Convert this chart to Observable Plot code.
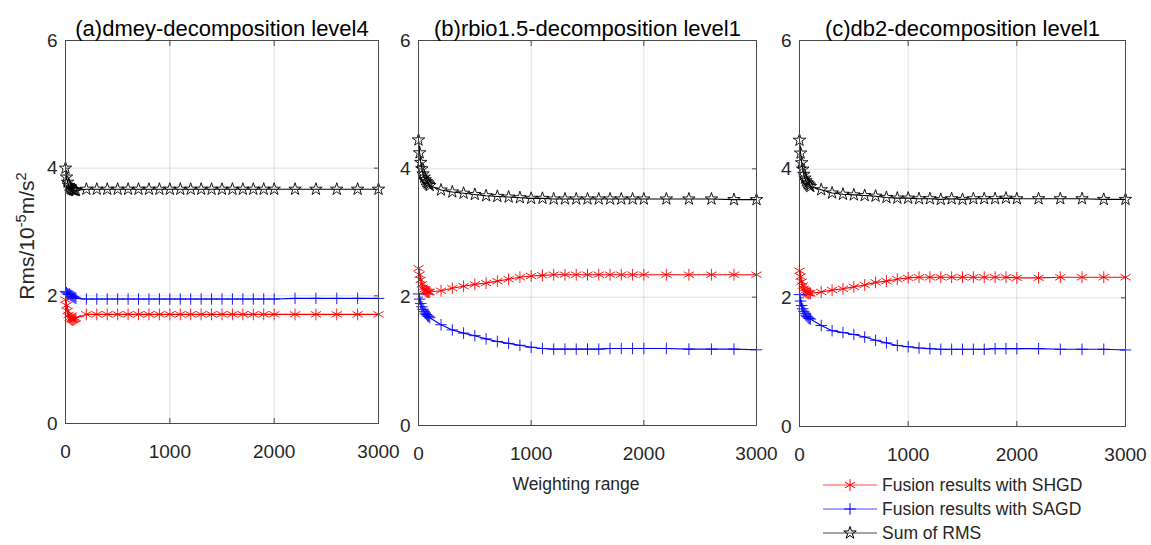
<!DOCTYPE html>
<html><head><meta charset="utf-8">
<script src="https://cdn.jsdelivr.net/npm/d3@7"></script>
<script src="https://cdn.jsdelivr.net/npm/@observablehq/plot@0.6"></script>
<style>
body{margin:0;background:#fff;font-family:"Liberation Sans",Arial,sans-serif;color:#262626}
#root{position:relative;width:1151px;height:545px;overflow:hidden;background:#fff}
.abs{position:absolute}
.panel svg{background:transparent !important}
</style></head><body><div id="root"></div>
<script>
// ---------------- data ----------------
const weights = [0,10,20,30,40,50,60,70,80,90,100,
  200,300,400,500,600,700,800,900,1000,1100,1200,1300,1400,1500,1600,1700,1800,1900,2000,
  2200,2400,2600,2800,3000];

const titles = ["(a)dmey-decomposition level4", "(b)rbio1.5-decomposition level1", "(c)db2-decomposition level1"];
const seriesNames = ["Fusion results with SHGD", "Fusion results with SAGD", "Sum of RMS"];
const xTicks = [0,1000,2000,3000];
const yTicks = [0,2,4,6];
const yLabel = "Rms/10<sup>-5</sup>m/s<sup>2</sup>";
const xLabel = "Weighting range";

// panel (a)
const a_shgd = [1.94,1.85,1.76,1.70,1.66,1.64,1.63,1.62,1.63,1.64,1.65,
  1.71,1.71,1.71,1.71,1.71,1.71,1.71,1.71,1.71,1.71,1.71,1.71,1.71,1.71,1.71,1.71,1.71,1.71,1.71,
  1.71,1.71,1.71,1.71,1.71];
const a_sagd = [2.07,2.05,2.03,2.02,2.03,2.01,2.00,1.99,1.98,1.97,1.96,
  1.95,1.95,1.95,1.95,1.95,1.95,1.95,1.95,1.95,1.95,1.95,1.95,1.95,1.95,1.95,1.95,1.95,1.95,1.95,
  1.96,1.96,1.96,1.96,1.96];
const a_sum = [4.00,3.86,3.78,3.73,3.70,3.68,3.67,3.66,3.66,3.65,3.65,
  3.67,3.67,3.67,3.67,3.67,3.67,3.67,3.67,3.67,3.67,3.67,3.67,3.67,3.67,3.67,3.67,3.67,3.67,3.67,
  3.67,3.67,3.67,3.67,3.67];

// panel (b)
const b_shgd = [2.45,2.35,2.27,2.20,2.15,2.12,2.10,2.09,2.08,2.08,2.08,
  2.10,2.14,2.17,2.20,2.22,2.25,2.28,2.31,2.33,2.34,2.35,2.35,2.35,2.35,2.35,2.35,2.35,2.35,2.35,
  2.35,2.35,2.35,2.35,2.35];
const b_sagd = [2.05,1.97,1.90,1.85,1.81,1.78,1.75,1.73,1.71,1.70,1.68,
  1.57,1.49,1.44,1.40,1.35,1.31,1.28,1.25,1.22,1.20,1.19,1.19,1.19,1.19,1.19,1.20,1.20,1.20,1.20,
  1.20,1.19,1.19,1.19,1.18];
const b_sum = [4.45,4.25,4.10,4.00,3.92,3.87,3.83,3.80,3.78,3.76,3.74,
  3.67,3.64,3.62,3.60,3.58,3.57,3.56,3.55,3.54,3.54,3.53,3.53,3.53,3.53,3.53,3.53,3.53,3.53,3.53,
  3.53,3.53,3.53,3.52,3.52];

// panel (c)
const c_shgd = [2.42,2.33,2.25,2.19,2.14,2.11,2.09,2.08,2.07,2.07,2.07,
  2.09,2.12,2.14,2.17,2.20,2.24,2.26,2.29,2.31,2.32,2.32,2.32,2.32,2.32,2.32,2.32,2.32,2.32,2.31,
  2.31,2.32,2.32,2.32,2.32];
const c_sagd = [2.05,1.95,1.88,1.83,1.79,1.76,1.73,1.71,1.69,1.68,1.67,
  1.57,1.49,1.46,1.43,1.39,1.34,1.30,1.26,1.24,1.22,1.21,1.20,1.20,1.20,1.20,1.20,1.21,1.21,1.21,
  1.21,1.20,1.20,1.20,1.19];
const c_sum = [4.45,4.25,4.10,4.00,3.92,3.86,3.82,3.79,3.77,3.75,3.73,
  3.68,3.63,3.61,3.60,3.59,3.58,3.56,3.55,3.55,3.54,3.54,3.53,3.54,3.53,3.54,3.54,3.54,3.55,3.54,
  3.54,3.54,3.54,3.53,3.53];

// ---------------- styling ----------------
const colors = ["#ff0000", "#0000ff", "#000000"];
const symbols = ["asterisk", "plus", "star"];
const radii = [5.6, 3.8, 3.9];
const FONT = '"Liberation Sans", Arial, sans-serif';

const panels = [
  {title: titles[0], series: [a_shgd, a_sagd, a_sum], left: 65, right: 378, top: 40, bottom: 423},
  {title: titles[1], series: [b_shgd, b_sagd, b_sum], left: 418, right: 756, top: 40, bottom: 425},
  {title: titles[2], series: [c_shgd, c_sagd, c_sum], left: 799, right: 1125, top: 40, bottom: 426}
];

const root = document.getElementById("root");
const ML = 45, MR = 15, MT = 40, MB = 45;
const fmt = d => String(d);

panels.forEach(p => {
  const w = (p.right - p.left) + ML + MR;
  const h = (p.bottom - p.top) + MT + MB;
  const marks = [
    Plot.gridX(xTicks, {stroke: "#000", strokeOpacity: 0.13}),
    Plot.gridY(yTicks, {stroke: "#000", strokeOpacity: 0.13})
  ];
  p.series.forEach((vals, si) => {
    const data = weights.map((x, i) => ({x, y: vals[i]}));
    marks.push(Plot.line(data, {x: "x", y: "y", stroke: colors[si], strokeWidth: 1.1}));
    marks.push(Plot.dot(data, {x: "x", y: "y", symbol: () => symbols[si], stroke: colors[si], fill: "none", r: radii[si], strokeWidth: 0.9}));
  });
  marks.push(
    Plot.frame({stroke: "#4a4a4a", strokeWidth: 1}),
    Plot.axisX(xTicks, {anchor: "bottom", tickSize: -5, tickPadding: 26, fontSize: 19, tickFormat: fmt, label: null, stroke: "#4a4a4a"}),
    Plot.axisX(xTicks, {anchor: "top", tickSize: -5, tickFormat: () => "", label: null, stroke: "#4a4a4a"}),
    Plot.axisY(yTicks, {anchor: "left", tickSize: -5, tickPadding: 13, fontSize: 19, tickFormat: fmt, label: null, stroke: "#4a4a4a"}),
    Plot.axisY(yTicks, {anchor: "right", tickSize: -5, tickFormat: () => "", label: null, stroke: "#4a4a4a"}),
    Plot.text([p.title], {frameAnchor: "top", dy: -20, fontSize: 22, fill: "#000"})
  );
  const chart = Plot.plot({
    width: w, height: h,
    marginLeft: ML, marginRight: MR, marginTop: MT, marginBottom: MB,
    x: {domain: [0, 3000], label: null},
    y: {domain: [0, 6], label: null},
    style: {fontFamily: FONT, fontSize: "19px", color: "#262626", background: "transparent", overflow: "visible"},
    marks
  });
  const div = document.createElement("div");
  div.className = "abs panel";
  div.style.left = (p.left - ML) + "px";
  div.style.top = (p.top - MT) + "px";
  div.appendChild(chart);
  root.appendChild(div);
});

// y label
const yl = document.createElement("div");
yl.innerHTML = yLabel;
yl.style.cssText = `position:absolute;left:27px;top:236px;transform:translate(-50%,-50%) rotate(-90deg);font-size:21px;white-space:nowrap;color:#262626;font-family:${FONT}`;
yl.querySelectorAll("sup").forEach(s => { s.style.fontSize = "0.7em"; s.style.verticalAlign = "0.55em"; s.style.lineHeight = "0"; });
root.appendChild(yl);

// x label
const xl = document.createElement("div");
xl.textContent = xLabel;
xl.style.cssText = `position:absolute;left:576px;top:484px;transform:translate(-50%,-50%);font-size:17.5px;white-space:nowrap;color:#262626;font-family:${FONT}`;
root.appendChild(xl);

// legend
const leg = document.createElement("div");
leg.style.cssText = `position:absolute;left:822px;top:473px;font-family:${FONT};font-size:17.5px;color:#262626`;
seriesNames.forEach((name, si) => {
  const row = document.createElement("div");
  row.style.cssText = "display:flex;align-items:center;height:24px;";
  const ns = "http://www.w3.org/2000/svg";
  const svg = document.createElementNS(ns, "svg");
  svg.setAttribute("width", 60); svg.setAttribute("height", 24);
  const line = document.createElementNS(ns, "line");
  line.setAttribute("x1", 1); line.setAttribute("x2", 55); line.setAttribute("y1", 12); line.setAttribute("y2", 12);
  line.setAttribute("stroke", colors[si]); line.setAttribute("stroke-width", 1.2); line.setAttribute("stroke-opacity", 0.7);
  svg.appendChild(line);
  const symMap = {asterisk: d3.symbolAsterisk, plus: d3.symbolPlus, star: d3.symbolStar};
  const path = document.createElementNS(ns, "path");
  path.setAttribute("d", d3.symbol(symMap[symbols[si]], Math.PI * radii[si] * radii[si])());
  path.setAttribute("transform", "translate(28,12)");
  path.setAttribute("stroke", colors[si]); path.setAttribute("fill", "none"); path.setAttribute("stroke-width", 1);
  svg.appendChild(path);
  row.appendChild(svg);
  const t = document.createElement("span");
  t.textContent = name;
  row.appendChild(t);
  leg.appendChild(row);
});
root.appendChild(leg);
</script></body></html>
